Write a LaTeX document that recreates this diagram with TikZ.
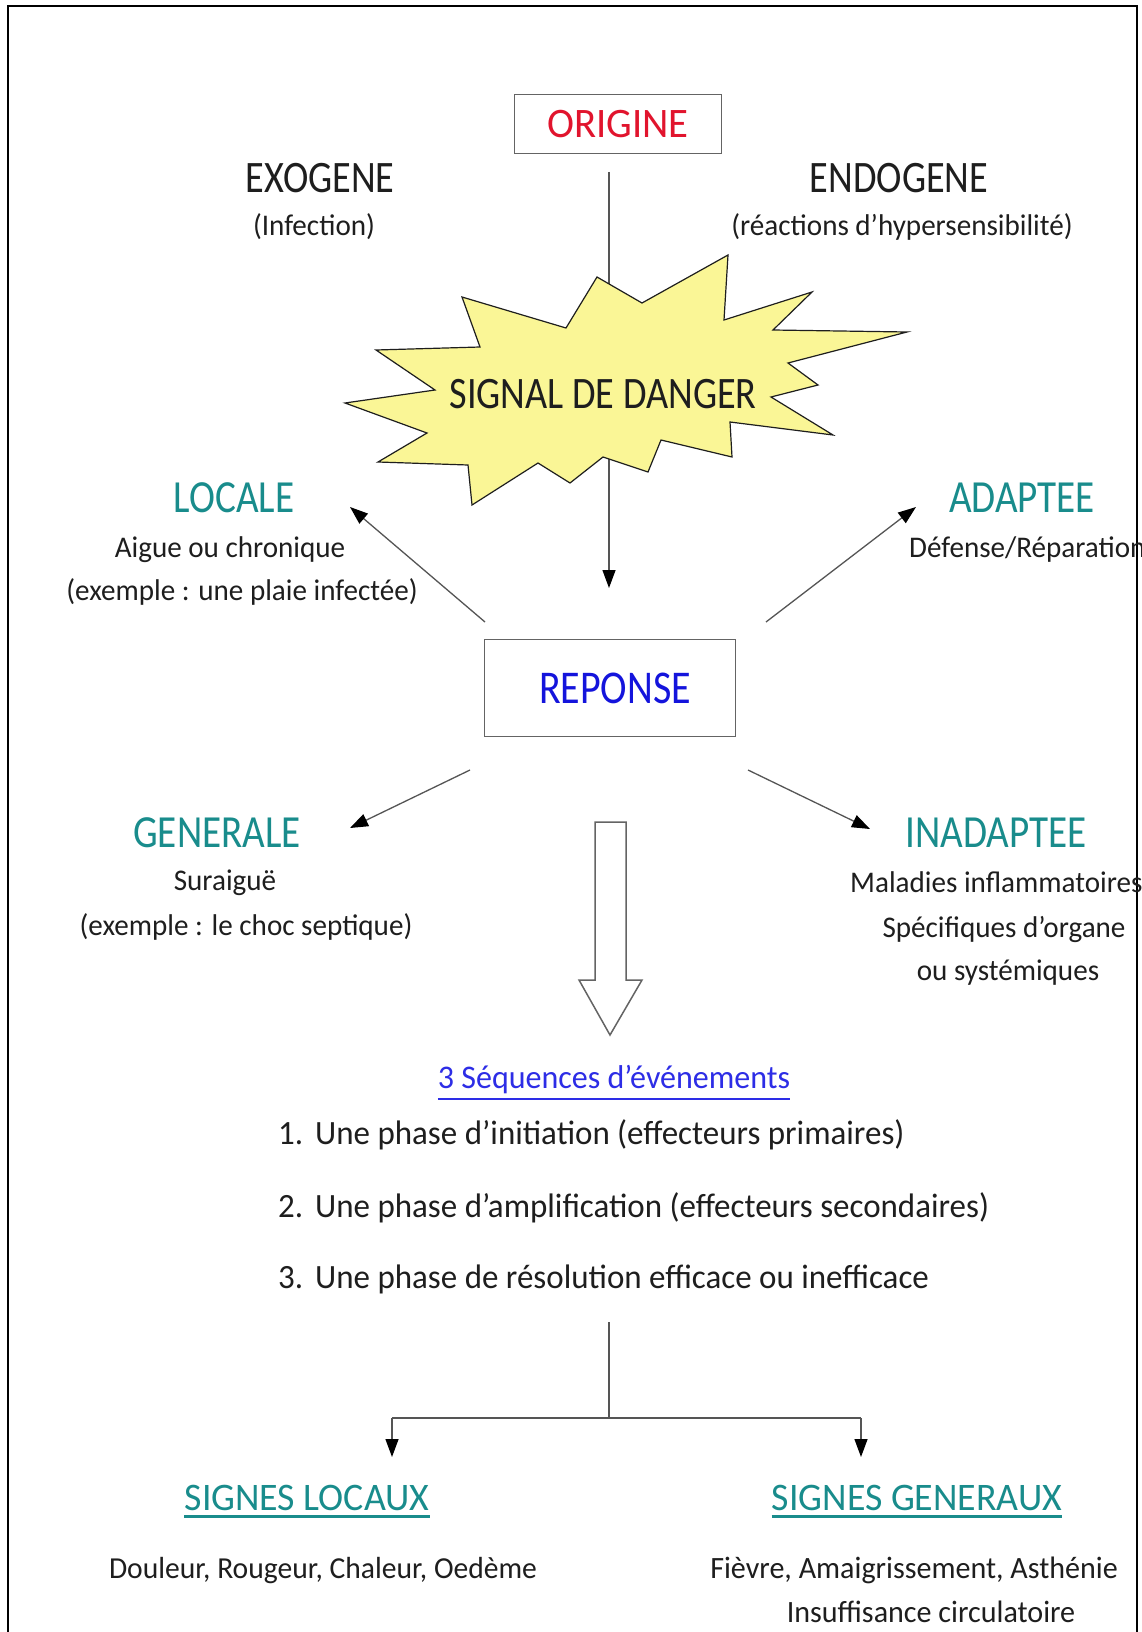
\documentclass[tikz,border=0pt]{standalone}
\usepackage{fontspec}
\setmainfont{Carlito}[FakeStretch=0.97]
\newfontfamily\capsfont{Carlito}[FakeStretch=0.85]
\usetikzlibrary{arrows.meta,calc}
\definecolor{ink}{RGB}{30,30,30}
\definecolor{redtxt}{RGB}{225,20,45}
\definecolor{tealtxt}{RGB}{25,140,140}
\definecolor{bluetxt}{RGB}{20,20,220}
\definecolor{seqblue}{RGB}{45,45,230}
\definecolor{starfill}{RGB}{250,246,150}
\definecolor{linegray}{RGB}{85,85,85}
\definecolor{boxgray}{RGB}{100,100,100}
\newcommand{\fs}[1]{\fontsize{#1}{#1}\selectfont}
\newcommand{\cs}[1]{\capsfont\fontsize{#1}{#1}\selectfont}
\begin{document}
\begin{tikzpicture}[x=1pt,y=-1pt,
  txt/.style={inner sep=0pt,anchor=base,text=ink},
  txtw/.style={inner sep=0pt,anchor=base west,text=ink},
  body/.style={font=\fs{30}},
  listtxt/.style={txtw,font=\fs{34}},
  head/.style={font=\cs{46},text=tealtxt},
  boxnode/.style={draw=boxgray,line width=1.8pt,fill=white,inner sep=0pt},
  conn/.style={draw=linegray,line width=1.3pt},
  tip/.style={conn,-{Triangle[length=18pt,width=13pt,color=black]}}
]
\clip (0,0) rectangle (1141,1632);
\fill[white] (0,0) rectangle (1141,1632);

% outer frame, open at the bottom
\draw[line width=2.5pt] (8,1632) -- (8,6) -- (1137,6) -- (1137,1632);

% origin
\node[boxnode,minimum width=207pt,minimum height=59pt,font=\fs{42},text=redtxt] (origin) at (618,124) {ORIGINE};
\node[txt,font=\cs{45}] (exo) at (320,193) {EXOGENE};
\node[txt,body] (exosub) at (314,235) {(Infection)};
\node[txt,font=\cs{45}] (endo) at (899,193) {ENDOGENE};
\node[txt,body] (endosub) at (902,235) {(réactions d’hypersensibilité)};

% main vertical connector, passing behind the star
\coordinate (vtop) at (609,172);
\coordinate (vend) at (609,588);
\draw[tip] (vtop) -- (vend);

% danger star
\filldraw[fill=starfill,draw=ink,line width=1.2pt]
  (345,403) -- (435,390) -- (376,350) -- (480,347) -- (462,297) -- (566,328)
  -- (597,277) -- (642,303) -- (728,255) -- (724,320) -- (812,292) -- (773,330)
  -- (907,332) -- (788,363) -- (818,385) -- (771,397) -- (833,435) -- (730,422)
  -- (732,457) -- (661,440) -- (648,472) -- (603,457) -- (570,483) -- (538,463)
  -- (472,505) -- (468,465) -- (378,462) -- (427,433) -- cycle;
\node[txt,font=\cs{45}] (signal) at (603,408) {SIGNAL DE DANGER};

% response
\node[boxnode,minimum width=251pt,minimum height=97pt,font=\cs{47},text=bluetxt] (reponse) at (610,688) {\hspace*{10pt}REPONSE};

% branches
\node[txt,head] (locale) at (234,512) {LOCALE};
\node[txt,body] (locale1) at (230,557) {Aigue ou chronique};
\node[txt,body] (locale2) at (242,600) {(exemple : une plaie infectée)};

\node[txt,head] (adaptee) at (1022,512) {ADAPTEE};
\node[txtw,body] (adaptee1) at (909,557) {Défense/Réparation};

\node[txt,head] (generale) at (217,847) {GENERALE};
\node[txt,body] (generale1) at (225,890) {Suraiguë};
\node[txt,body] (generale2) at (246,935) {(exemple : le choc septique)};

\node[txt,head] (inadaptee) at (996,847) {INADAPTEE};
\node[txtw,body] (inad1) at (850,892) {Maladies inflammatoires};
\node[txt,body] (inad2) at (1004,937) {Spécifiques d’organe};
\node[txt,body] (inad3) at (1008,980) {ou systémiques};

\coordinate (locS) at (485,622);  \coordinate (locE) at (350,507);
\coordinate (adaS) at (766,622);  \coordinate (adaE) at (916,507);
\coordinate (genS) at (470,770);  \coordinate (genE) at (350,828);
\coordinate (inaS) at (748,770);  \coordinate (inaE) at (870,829);
\draw[tip] (locS) -- (locE);
\draw[tip] (adaS) -- (adaE);
\draw[tip] (genS) -- (genE);
\draw[tip] (inaS) -- (inaE);

% hollow block arrow
\draw[draw=boxgray,fill=white,line width=1.5pt]
  (595,822) -- (626,822) -- (626,980) -- (642,980) -- (610,1035)
  -- (579,980) -- (595,980) -- cycle;

% sequence of events
\node[txt,font=\fs{33},text=seqblue] (seq) at (614,1088) {3 Séquences d’événements};
\draw[seqblue,line width=1.4pt] ([yshift=-11pt]seq.base west) -- ([yshift=-11pt]seq.base east);
\node[listtxt] (n1) at (278,1144) {1.};
\node[listtxt] (s1) at (315,1144) {Une phase d’initiation (effecteurs primaires)};
\node[listtxt] (n2) at (278,1217) {2.};
\node[listtxt] (s2) at (315,1217) {Une phase d’amplification (effecteurs secondaires)};
\node[listtxt] (n3) at (278,1288) {3.};
\node[listtxt] (s3) at (315,1288) {Une phase de résolution efficace ou inefficace};

% split towards the signs
\coordinate (tTop) at (609,1322);
\coordinate (tMid) at (609,1418);
\coordinate (tL) at (392,1418);
\coordinate (tR) at (861,1418);
\coordinate (tLE) at (392,1457);
\coordinate (tRE) at (861,1457);
\draw[conn] (tTop) -- (tMid);
\draw[conn,line width=2.2pt] (tL) -- (tR);
\draw[tip] (tL) -- (tLE);
\draw[tip] (tR) -- (tRE);

\node[txt,font=\fs{39},text=tealtxt] (sigloc) at (307,1510) {SIGNES LOCAUX};
\draw[tealtxt,line width=3pt] ([yshift=-6pt]sigloc.base west) -- ([yshift=-6pt]sigloc.base east);
\node[txt,font=\fs{39},text=tealtxt] (siggen) at (917,1510) {SIGNES GENERAUX};
\draw[tealtxt,line width=3pt] ([yshift=-6pt]siggen.base west) -- ([yshift=-6pt]siggen.base east);

\node[txt,font=\fs{30.5}] (sl1) at (323,1578) {Douleur, Rougeur, Chaleur, Oedème};
\node[txt,font=\fs{31}] (sg1) at (914,1578) {Fièvre, Amaigrissement, Asthénie};
\node[txt,font=\fs{31}] (sg2) at (931,1622) {Insuffisance circulatoire};
\end{tikzpicture}
\end{document}
